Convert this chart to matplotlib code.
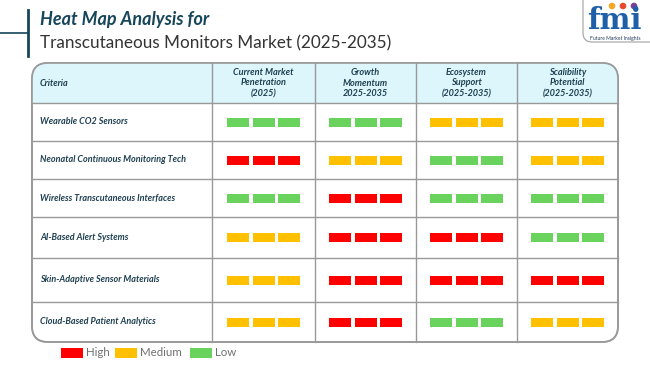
import matplotlib
matplotlib.use("Agg")
import matplotlib.pyplot as plt
from matplotlib.patches import FancyBboxPatch, Rectangle, Circle

plt.rcParams['font.family'] = ['Lato', 'DejaVu Sans']

# data
criteria = ["Wearable CO2 Sensors",
            "Neonatal Continuous Monitoring Tech",
            "Wireless Transcutaneous Interfaces",
            "AI-Based Alert Systems",
            "Skin-Adaptive Sensor Materials",
            "Cloud-Based Patient Analytics"]
columns = ["Current Market\nPenetration\n(2025)",
           "Growth\nMomentum\n2025-2035",
           "Ecosystem\nSupport\n(2025-2035)",
           "Scalibility\nPotential\n(2025-2035)"]
levels = [["Low", "Low", "Medium", "Medium"],
          ["High", "Medium", "Low", "Medium"],
          ["Low", "High", "Low", "Low"],
          ["Medium", "High", "High", "Low"],
          ["Medium", "High", "High", "High"],
          ["Medium", "High", "Low", "Medium"]]
legend_labels = ["High", "Medium", "Low"]
level_colors = {"High": "#FF0000", "Medium": "#FFC000", "Low": "#6AD35E"}

# layout (pixels)
col_edges = [32, 212, 315, 416, 517, 618]
row_edges = [63, 103, 141, 179, 217, 258, 302, 342]
dark = "#1E3F50"
grid_c = "#999999"

fig = plt.figure(figsize=(6.5, 3.65), dpi=100)
ax = fig.add_axes([0, 0, 1, 1])
ax.set_xlim(0, 650)
ax.set_ylim(365, 0)
ax.axis("off")

# title decoration
ax.plot([28, 28], [10, 56], color="#17465A", lw=2)
ax.plot([0, 28], [33, 33], color="#17465A", lw=1.2)
ax.text(40, 19, "Heat Map Analysis for", fontsize=13, fontweight="bold",
        style="italic", color="#17465A", va="center")
ax.text(40, 43, "Transcutaneous Monitors Market (2025-2035)", fontsize=12.3,
        color="#333333", va="center")

# logo
logo = FancyBboxPatch((583, -12), 85, 54, boxstyle="round,pad=0,rounding_size=9",
                      fc="white", ec="#A0A0A0", lw=0.8)
ax.add_patch(logo)
ax.text(614, 29, "fmi", fontsize=21, fontweight="bold", color="#1F5FA8",
        family="DejaVu Serif", ha="center", va="baseline")
for cx, c in zip([612, 623, 634], ["#F5A623", "#E8492C", "#7B3F98"]):
    ax.add_patch(Circle((cx, 6), 3.3, fc=c, ec="none"))
ax.text(615, 38.5, "Future Market Insights", fontsize=3.6, color="#1F3A5A",
        ha="center", va="center")

# table frame
x0, x1 = col_edges[0], col_edges[-1]
y0, y1 = row_edges[0], row_edges[-1]
frame = FancyBboxPatch((x0, y0), x1 - x0, y1 - y0,
                       boxstyle="round,pad=0,rounding_size=16",
                       fc="white", ec=grid_c, lw=1.2, zorder=1)
ax.add_patch(frame)
head = Rectangle((x0, y0), x1 - x0, row_edges[1] - y0, fc="#DCF6FB", ec="none", zorder=1.5)
ax.add_patch(head)
head.set_clip_path(frame)

for y in row_edges[1:-1]:
    ax.plot([x0, x1], [y, y], color=grid_c, lw=1, zorder=2)
for x in col_edges[1:-1]:
    ax.plot([x, x], [y0, y1], color=grid_c, lw=1, zorder=2)
frame2 = FancyBboxPatch((x0, y0), x1 - x0, y1 - y0,
                        boxstyle="round,pad=0,rounding_size=16",
                        fc="none", ec=grid_c, lw=1.2, zorder=3)
ax.add_patch(frame2)

# header
hy = (row_edges[0] + row_edges[1]) / 2
ax.text(40, hy, "Criteria", fontsize=6.5, fontweight="bold", style="italic",
        color=dark, va="center")
for j, name in enumerate(columns):
    cx = (col_edges[j + 1] + col_edges[j + 2]) / 2
    ax.text(cx, hy, name, fontsize=6.6, fontweight="bold", style="italic",
            color=dark, ha="center", va="center", linespacing=1.25)

# rows
bw, gap, bh = 22, 3.5, 9
for i, name in enumerate(criteria):
    cy = (row_edges[i + 1] + row_edges[i + 2]) / 2
    ax.text(40, cy, name, fontsize=6.5, fontweight="bold", style="italic",
            color=dark, va="center")
    for j, lv in enumerate(levels[i]):
        cx = (col_edges[j + 1] + col_edges[j + 2]) / 2
        xs = [cx + k * (bw + gap) for k in (-1, 0, 1)]
        ax.bar(xs, [bh] * 3, width=bw, bottom=cy - bh / 2,
               color=level_colors[lv], zorder=4)

# legend
lx = [61, 115, 190]
for x, lab in zip(lx, legend_labels):
    ax.bar(x + 11, 10, width=22, bottom=348, color=level_colors[lab])
    ax.text(x + 25, 353, lab, fontsize=8.3, color="#707070", va="center")

fig.savefig("out.png", dpi=100)
